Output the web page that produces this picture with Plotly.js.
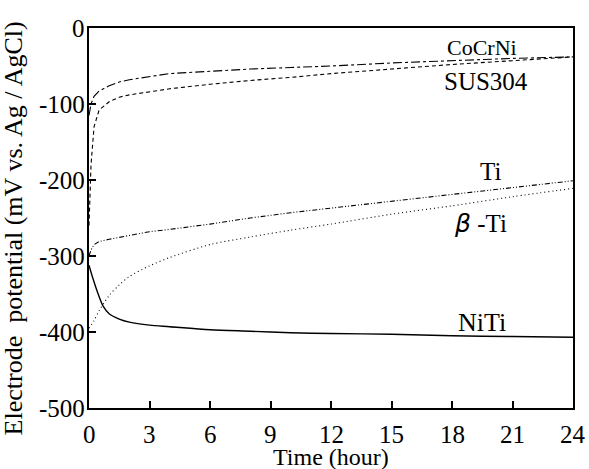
<!DOCTYPE html>
<html>
<head>
<meta charset="utf-8">
<script src="https://cdn.plot.ly/plotly-3.0.1.min.js"></script>
<style>
html,body{margin:0;padding:0;background:#fff;}
#chart{width:589px;height:469px;}
</style>
</head>
<body>
<div id="chart"></div>
<script>
// Time (hour)
var tCoCrNi = [0, 0.1, 0.25, 0.5, 1, 1.5, 2, 3, 4, 6, 8, 10, 12, 15, 18, 21, 24];
var vCoCrNi = [-115, -100, -90, -83, -76, -71, -68, -64, -60, -57, -54, -52, -50, -46, -43, -40, -38];

var tSUS304 = [0, 0.1, 0.25, 0.5, 1, 1.5, 2, 3, 4, 6, 8, 10, 12, 15, 18, 21, 24];
var vSUS304 = [-260, -180, -130, -108, -97, -91, -88, -84, -80, -74, -69, -65, -60, -54, -48, -43, -38];

var tTi = [0, 0.1, 0.25, 0.5, 1, 2, 3, 4, 6, 8, 10, 12, 15, 18, 21, 24];
var vTi = [-300, -292, -285, -281, -278, -273, -268, -265, -258, -250, -243, -237, -228, -219, -210, -201];

var tBetaTi = [0, 0.25, 0.5, 1, 1.5, 2, 3, 4, 6, 8, 10, 12, 15, 18, 21, 24];
var vBetaTi = [-395, -385, -372, -352, -338, -327, -313, -302, -285, -275, -266, -258, -245, -234, -222, -211];

var tNiTi = [0, 0.2, 0.4, 0.7, 1, 1.5, 2, 3, 4, 6, 8, 10, 12, 15, 18, 21, 24];
var vNiTi = [-312, -330, -346, -366, -376, -383, -387, -391, -393, -397, -399, -401, -402, -403, -405, -406, -407];

var xTickVals = [0, 3, 6, 9, 12, 15, 18, 21, 24];
var xTickText = ["0", "3", "6", "9", "12", "15", "18", "21", "24"];
var yTickVals = [0, -100, -200, -300, -400, -500];
var yTickText = ["0", "-100", "-200", "-300", "-400", "-500"];

var seriesNames = ["CoCrNi", "SUS304", "Ti", "<span style=\"font-family:DejaVu Sans\"><i>β</i></span> -Ti", "NiTi"];

var serif = "Liberation Serif";

function tr(x, y, dash, w, shape) {
  return {x: x, y: y, type: 'scatter', mode: 'lines',
    line: {color: '#000', width: w, dash: dash, shape: shape || 'linear', smoothing: 0.8},
    showlegend: false, hoverinfo: 'skip'};
}

var data = [
  tr(tCoCrNi, vCoCrNi, 'dashdot', 1.1),
  tr(tSUS304, vSUS304, '4px,3px', 1.1),
  tr(tTi, vTi, '5px,2px,1px,2px,1px,2px', 1.1),
  tr(tBetaTi, vBetaTi, '1px,3px', 1.1, 'spline'),
  tr(tNiTi, vNiTi, 'solid', 1.4, 'spline')
];

var labelPos = [[19.5, -25, 22], [19.7, -71, 25], [19.9, -189, 25], [19.4, -257, 25], [19.5, -388, 26]];
var annotations = seriesNames.map(function (n, i) {
  return {x: labelPos[i][0], y: labelPos[i][1], xref: 'x', yref: 'y', text: n, showarrow: false,
    font: {family: serif, size: labelPos[i][2], color: '#000'}, xanchor: 'center', yanchor: 'middle'};
});

// tick labels placed through the axes' own scales
xTickVals.forEach(function (v, i) {
  annotations.push({x: v, y: 0, xref: 'x', yref: 'paper', text: xTickText[i], showarrow: false,
    font: {family: serif, size: 25, color: '#000'}, xanchor: 'center', yanchor: 'middle',
    yshift: -26, height: 22});
});
yTickVals.forEach(function (v, i) {
  annotations.push({x: 0, y: v, xref: 'paper', yref: 'y', text: yTickText[i], showarrow: false,
    font: {family: serif, size: 25, color: '#000'}, xanchor: 'right', yanchor: 'middle',
    xshift: -2, height: 22});
});

annotations.push({x: 0.5, y: 0, xref: 'paper', yref: 'paper', text: 'Time (hour)', showarrow: false,
  font: {family: serif, size: 24, color: '#000'}, xanchor: 'center', yanchor: 'middle',
  yshift: -49, height: 24});
annotations.push({x: -0.156, y: 0.474, xref: 'paper', yref: 'paper', text: 'Electrode  potential (mV vs. Ag / AgCl)',
  showarrow: false, textangle: -90, font: {family: serif, size: 26, color: '#000'}, xanchor: 'center', yanchor: 'middle'});

function axis(extra) {
  var a = {
    showgrid: false, zeroline: false, showline: true, linecolor: '#000', linewidth: 2, mirror: true,
    ticks: 'inside', ticklen: 7, tickwidth: 2, tickcolor: '#000', showticklabels: false,
    tickmode: 'array'
  };
  for (var k in extra) a[k] = extra[k];
  return a;
}

var layout = {
  width: 589, height: 469,
  font: {family: serif, size: 25, color: '#000'},
  margin: {l: 89, r: 16, t: 28, b: 61},
  paper_bgcolor: '#fff', plot_bgcolor: '#fff',
  xaxis: axis({range: [0, 24], tickvals: xTickVals}),
  yaxis: axis({range: [-500, 0], tickvals: yTickVals}),
  annotations: annotations
};

Plotly.newPlot('chart', data, layout, {displayModeBar: false, staticPlot: true});
</script>
</body>
</html>
